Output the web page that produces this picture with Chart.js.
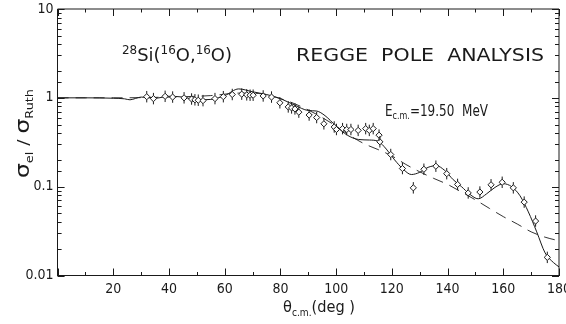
<!DOCTYPE html>
<html>
<head>
<meta charset="utf-8">
<script src="https://cdn.jsdelivr.net/npm/chart.js@4.4.1/dist/chart.umd.min.js"></script>
<style>
  html, body { margin: 0; padding: 0; background: #fff; }
  #wrap { width: 566px; height: 324px; }
</style>
</head>
<body>
<div id="wrap"><canvas id="chart" width="566" height="324"></canvas></div>
<script>
// measured points: c.m. angle (deg) and sigma_el / sigma_Ruth
const dataAngles = [32.0, 34.4, 38.6, 41.3, 45.4, 48.1, 49.3, 50.5, 52.2, 56.5,
  59.5, 62.7, 66.1, 67.9, 69.1, 70.2, 73.8, 76.8, 79.8, 82.8,
  84.0, 85.2, 86.6, 90.3, 93.0, 95.6, 99.3, 100.1, 102.3, 103.8,
  105.3, 107.9, 110.6, 111.9, 113.3, 115.4, 115.7, 119.6, 123.8, 127.7,
  131.5, 135.8, 139.7, 143.6, 147.4, 151.6, 155.6, 159.6, 163.6, 167.5,
  171.6, 175.8];
const dataRatios = [1.03, 0.98, 1.04, 1.02, 1.00, 0.97, 0.95, 0.94, 0.93, 0.98,
  1.03, 1.09, 1.10, 1.08, 1.07, 1.07, 1.05, 1.02, 0.88, 0.79,
  0.77, 0.75, 0.69, 0.64, 0.60, 0.51, 0.47, 0.44, 0.45, 0.44,
  0.44, 0.43, 0.45, 0.43, 0.45, 0.38, 0.32, 0.23, 0.16, 0.097,
  0.157, 0.170, 0.140, 0.106, 0.085, 0.087, 0.105, 0.112, 0.097, 0.067,
  0.041, 0.016];
const errFrac = 0.16; // relative size of the error bars

// Regge pole fit (solid)
const fitAngles = [0, 10, 20, 24, 26, 28, 30, 35, 40, 45, 50, 55, 60, 65, 70, 75, 80, 85, 90, 93,
  96, 100, 104, 108, 112, 115, 118, 121, 124, 127, 130, 133, 136, 139, 142, 145, 148, 151,
  154, 157, 160, 163, 166, 169, 172, 175, 178, 180];
const fitRatios = [1.0, 1.0, 0.99, 0.975, 0.95, 0.985, 1.02, 0.99, 1.04, 1.02, 0.95, 0.96, 1.06, 1.26, 1.17, 1.09, 0.98, 0.83, 0.72, 0.71,
  0.63, 0.48, 0.38, 0.34, 0.335, 0.325, 0.265, 0.2, 0.158, 0.137, 0.145, 0.165, 0.172, 0.152, 0.12, 0.1, 0.082, 0.073,
  0.083, 0.098, 0.108, 0.1, 0.079, 0.052, 0.031, 0.018, 0.014, 0.0125];

// smooth background curve (dashed)
const dashAngles = [0, 20, 40, 55, 65, 72, 80, 85, 90, 95, 100, 105, 110, 115, 120, 125, 130, 135,
  140, 145, 150, 155, 160, 165, 170, 175, 179];
const dashRatios = [1.0, 1.0, 1.02, 1.06, 1.13, 1.12, 0.98, 0.86, 0.73, 0.6, 0.48, 0.375, 0.305, 0.262, 0.222, 0.178, 0.147, 0.124,
  0.106, 0.087, 0.071, 0.057, 0.046, 0.038, 0.031, 0.027, 0.025];

const xTickLabels = [20, 40, 60, 80, 100, 120, 140, 160, 180];
const yTickLabels = [0.01, 0.1, 1, 10];

const ink = '#1a1a1a';
const tickFont = "'Liberation Sans Narrow', 'DejaVu Sans Condensed', sans-serif";
const textFont = "'DejaVu Sans', sans-serif";

function pairs(xs, ys) {
  return xs.map((x, i) => ({ x: x, y: ys[i] }));
}

function isDecade(v) {
  const l = Math.log10(v);
  return Math.abs(l - Math.round(l)) < 1e-6;
}

// draws runs of text [text, size, dy]; stretched to width w if given
function drawRuns(ctx, runs, x, y, w, family) {
  let total = 0;
  runs.forEach(r => {
    ctx.font = r[1] + 'px ' + family;
    total += ctx.measureText(r[0]).width;
  });
  const sx = w ? w / total : 1;
  ctx.save();
  ctx.translate(x, y);
  ctx.scale(sx, 1);
  let cx = 0;
  runs.forEach(r => {
    ctx.font = r[1] + 'px ' + family;
    ctx.fillText(r[0], cx, r[2]);
    cx += ctx.measureText(r[0]).width;
  });
  ctx.restore();
}

const errorBars = {
  id: 'errorBars',
  afterDatasetsDraw(chart) {
    const ctx = chart.ctx;
    const ys = chart.scales.y;
    const meta = chart.getDatasetMeta(0);
    ctx.save();
    ctx.strokeStyle = ink;
    ctx.lineWidth = 1;
    meta.data.forEach((pt, i) => {
      const v = dataRatios[i];
      const top = ys.getPixelForValue(v * (1 + errFrac));
      const bot = ys.getPixelForValue(v / (1 + errFrac));
      const r = 3;
      ctx.beginPath();
      ctx.moveTo(pt.x, top);
      ctx.lineTo(pt.x, pt.y - r);
      ctx.moveTo(pt.x, pt.y + r);
      ctx.lineTo(pt.x, bot);
      ctx.stroke();
    });
    ctx.restore();
  }
};

const frameAndText = {
  id: 'frameAndText',
  afterDraw(chart) {
    const ctx = chart.ctx;
    const ca = chart.chartArea;
    const xs = chart.scales.x;
    const ys = chart.scales.y;
    ctx.save();
    ctx.strokeStyle = ink;
    ctx.lineWidth = 1;
    ctx.beginPath();
    ctx.moveTo(ca.left, ca.top);
    ctx.lineTo(ca.right, ca.top);
    ctx.lineTo(ca.right, ca.bottom);
    // inward ticks on all four sides
    xs.ticks.forEach(t => {
      const px = Math.round(xs.getPixelForValue(t.value)) + 0.5;
      const len = t.value % 20 === 0 ? 7 : 3.5;
      ctx.moveTo(px, ca.bottom);
      ctx.lineTo(px, ca.bottom - len);
      ctx.moveTo(px, ca.top);
      ctx.lineTo(px, ca.top + len);
    });
    ys.ticks.forEach(t => {
      const py = Math.round(ys.getPixelForValue(t.value)) + 0.5;
      const len = isDecade(t.value) ? 7 : 4;
      ctx.moveTo(ca.left, py);
      ctx.lineTo(ca.left + len, py);
      ctx.moveTo(ca.right, py);
      ctx.lineTo(ca.right - len, py);
    });
    ctx.stroke();

    ctx.fillStyle = ink;
    ctx.textBaseline = 'alphabetic';
    ctx.textAlign = 'left';
    drawRuns(ctx, [['28', 12, -7], ['Si(', 18, 0], ['16', 12, -7], ['O,', 18, 0], ['16', 12, -7], ['O)', 18, 0]],
      122, 61, 110, textFont);
    drawRuns(ctx, [['REGGE  POLE  ANALYSIS', 18, 0]], 296, 61, 248, textFont);
    drawRuns(ctx, [['E', 15, 0], ['c.m.', 10, 3], ['=19.50  MeV', 15, 0]], 385, 116, 103, textFont);
    drawRuns(ctx, [['θ', 16, 0], ['c.m.', 10, 4], ['(deg )', 16, 0]], 283, 312, 72, textFont);

    ctx.save();
    ctx.translate(29, 178);
    ctx.rotate(-Math.PI / 2);
    drawRuns(ctx, [['σ', 20, 0], ['el', 11, 4], [' / ', 16, 0], ['σ', 20, 0], ['Ruth', 11, 4]], 0, 0, 89, textFont);
    ctx.restore();
    ctx.restore();
  }
};

const ctx = document.getElementById('chart').getContext('2d');
const chart = new Chart(ctx, {
  type: 'line',
  data: {
    datasets: [{
      label: 'data',
      data: pairs(dataAngles, dataRatios),
      showLine: false,
      pointStyle: 'rectRot',
      pointRadius: 3.1,
      pointBackgroundColor: '#fff',
      pointBorderColor: ink,
      pointBorderWidth: 1
    }, {
      label: 'fit',
      data: pairs(fitAngles, fitRatios),
      borderColor: ink,
      borderWidth: 1,
      pointRadius: 0,
      cubicInterpolationMode: 'monotone',
      fill: false
    }, {
      label: 'background',
      data: pairs(dashAngles, dashRatios),
      borderColor: '#333',
      borderWidth: 1,
      borderDash: [11, 7],
      pointRadius: 0,
      cubicInterpolationMode: 'monotone',
      fill: false
    }]
  },
  options: {
    responsive: false,
    animation: false,
    layout: { padding: { top: 9, right: 7, left: 0, bottom: 0 }, autoPadding: false },
    plugins: { legend: { display: false }, tooltip: { enabled: false } },
    scales: {
      x: {
        type: 'linear',
        min: 0,
        max: 180,
        afterFit: s => { s.height = 48.5; s.paddingLeft = 0; s.paddingRight = 0; },
        grid: { display: false, drawTicks: false },
        border: { display: true, color: ink, width: 1 },
        ticks: {
          stepSize: 10,
          autoSkip: false,
          maxRotation: 0,
          padding: 5,
          color: ink,
          font: { family: tickFont, size: 14 },
          callback: v => xTickLabels.includes(v) ? String(v) : ''
        }
      },
      y: {
        type: 'logarithmic',
        min: 0.01,
        max: 10,
        afterFit: s => { s.width = 57.6; s.paddingTop = 0; s.paddingBottom = 0; },
        grid: { display: false, drawTicks: false },
        border: { display: true, color: ink, width: 1 },
        ticks: {
          autoSkip: false,
          padding: 4,
          color: ink,
          font: { family: tickFont, size: 14 },
          callback: v => yTickLabels.some(t => Math.abs(t - v) < 1e-9) ? String(v) : ''
        }
      }
    }
  },
  plugins: [errorBars, frameAndText]
});
</script>
</body>
</html>
